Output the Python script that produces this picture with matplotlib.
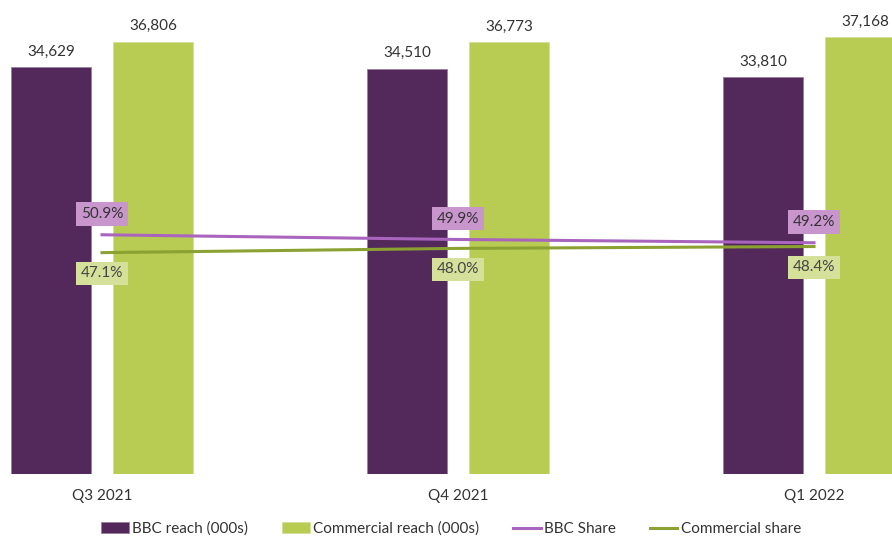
import numpy as np
import matplotlib
matplotlib.use("Agg")
import matplotlib.pyplot as plt

plt.rcParams['font.family'] = ['Lato', 'DejaVu Sans']

quarters = ['Q3 2021', 'Q4 2021', 'Q1 2022']
bbc_reach = [34629, 34510, 33810]
commercial_reach = [36806, 36773, 37168]
bbc_share = [50.9, 49.9, 49.2]
commercial_share = [47.1, 48.0, 48.4]

purple = '#52295A'
green = '#B8CB52'
purple_line = '#A965BD'
green_line = '#8BA232'
text_col = '#333333'

fig = plt.figure(figsize=(8.92, 5.36), dpi=100)
# axes runs a bit past the right edge, like the cropped original
ax = fig.add_axes([0, 62 / 536, 1, 470 / 536])
x = np.arange(len(quarters))
w = 80 / 356
off = 51 / 356

b1 = ax.bar(x - off, bbc_reach, w, color=purple, edgecolor='#9a7fa0', linewidth=0.6,
            label='BBC reach (000s)')
b2 = ax.bar(x + off, commercial_reach, w, color=green, edgecolor='#d6e09c', linewidth=0.6,
            label='Commercial reach (000s)')
ax.set_ylim(0, 40000)
ax.set_xlim(-102 / 356, 790 / 356)

for bars, vals in ((b1, bbc_reach), (b2, commercial_reach)):
    for rect, v in zip(bars, vals):
        ax.annotate(f'{v:,}', (rect.get_x() + rect.get_width() / 2, v),
                    xytext=(0, 11), textcoords='offset points',
                    ha='center', va='center', fontsize=11, color=text_col)

ax.set_xticks(x)
ax.set_xticklabels(quarters, fontsize=11, color=text_col)
ax.tick_params(axis='x', length=0, pad=11)
ax.set_yticks([])
for s in ax.spines.values():
    s.set_visible(False)

ax2 = ax.twinx()
ax2.set_ylim(0, 100)
l1, = ax2.plot(x, bbc_share, color=purple_line, lw=2.2, label='BBC Share')
l2, = ax2.plot(x, commercial_share, color=green_line, lw=2.2, label='Commercial share')
for xi, v in zip(x, bbc_share):
    ax2.annotate(f'{v:.1f}%', (xi, v), xytext=(0, 15), textcoords='offset points',
                 ha='center', va='center', fontsize=11, color=text_col,
                 bbox=dict(boxstyle='square,pad=0.3', fc='#C896CD', ec='none'))
for xi, v in zip(x, commercial_share):
    ax2.annotate(f'{v:.1f}%', (xi, v), xytext=(0, -15), textcoords='offset points',
                 ha='center', va='center', fontsize=11, color='#444444',
                 bbox=dict(boxstyle='square,pad=0.3', fc='#D5E09B', ec='none'))
ax2.set_yticks([])
for s in ax2.spines.values():
    s.set_visible(False)

fig.legend(handles=[b1, b2, l1, l2], loc='center', bbox_to_anchor=(451 / 892, 1 - 529 / 536),
           ncol=4, frameon=False, fontsize=11, handlelength=1.8, handletextpad=0.2,
           columnspacing=2.25, labelcolor=text_col)

fig.savefig('out.png', dpi=100)
